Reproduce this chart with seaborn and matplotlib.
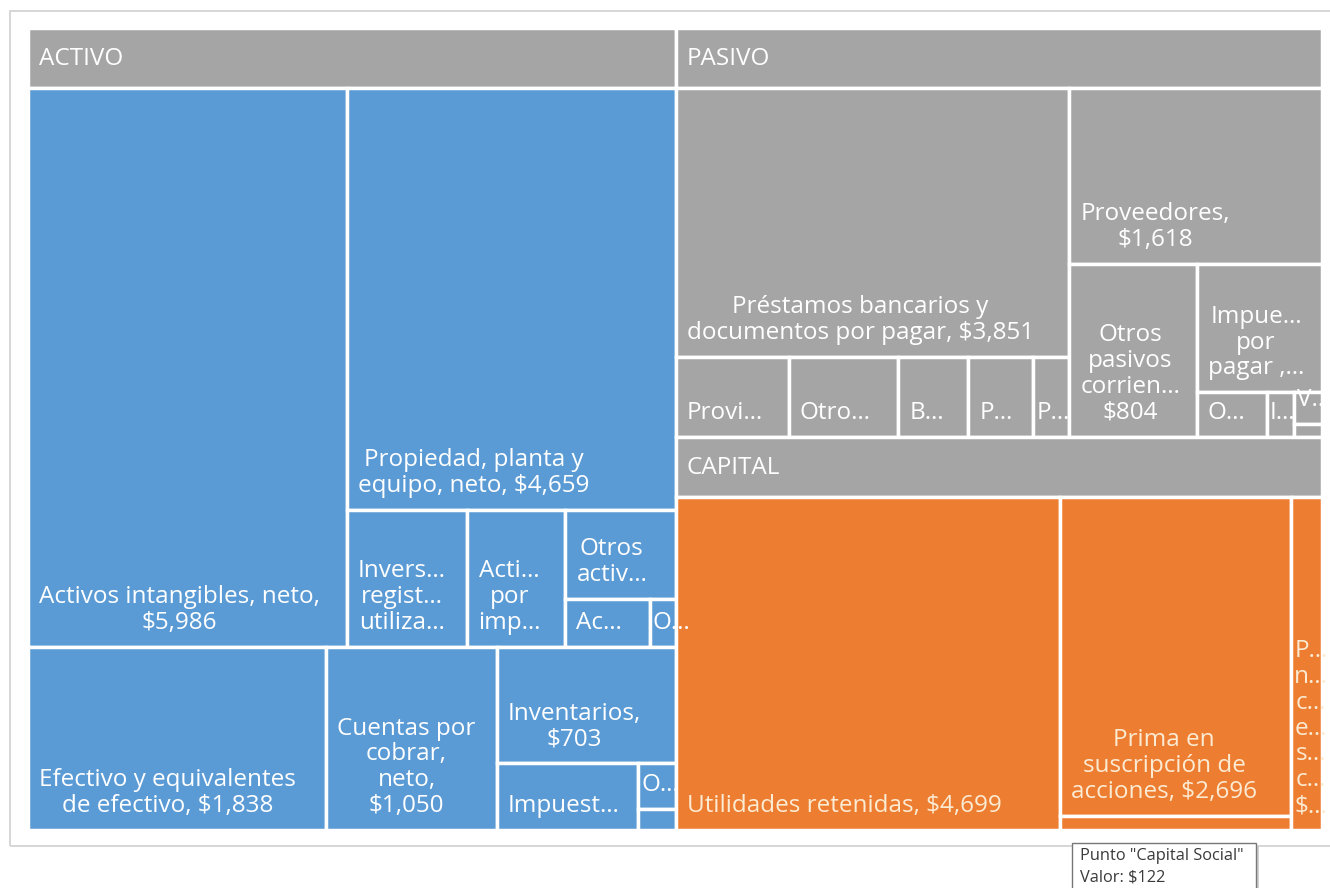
import matplotlib
matplotlib.use("Agg")
import matplotlib.pyplot as plt
import seaborn as sns
from matplotlib.patches import Rectangle
from matplotlib.transforms import Bbox, TransformedBbox

# Balance general: rubros y montos (millones de pesos)
activo_labels = [
    "Activos intangibles, neto,\n$5,986",
    "Propiedad, planta y\nequipo, neto, $4,659",
    "Invers…\nregist…\nutiliza…",
    "Acti…\npor\nimp…",
    "Otros\nactiv…",
    "Ac…",
    "O…",
    "Efectivo y equivalentes\nde efectivo, $1,838",
    "Cuentas por\ncobrar,\nneto,\n$1,050",
    "Inventarios,\n$703",
    "Impuest…",
    "O…",
    "",
]
activo_values = [5986, 4659, 550, 450, 330, 134, 41, 1838, 1050, 703, 316, 58, 26]

pasivo_labels = [
    "Préstamos bancarios y\ndocumentos por pagar, $3,851",
    "Provi…",
    "Otro…",
    "B…",
    "P…",
    "P…",
    "Proveedores,\n$1,618",
    "Otros\npasivos\ncorrien…\n$804",
    "Impue…\npor\npagar ,…",
    "O…",
    "I…",
    "V…",
    "",
]
pasivo_values = [3851, 331, 319, 205, 190, 105, 1618, 804, 586, 114, 44, 32, 13]

capital_labels = [
    "Utilidades retenidas, $4,699",
    "Prima en\nsuscripción de\nacciones, $2,696",
    "",
    "P…\nn…\nc…\ne…\ns…\nc…\n$…",
]
capital_values = [4699, 2696, 122, 379]

group_names = ["ACTIVO", "PASIVO", "CAPITAL"]
group_labels = [activo_labels, pasivo_labels, capital_labels]
group_values = [activo_values, pasivo_values, capital_values]
group_colors = ["#5B9BD5", "#A5A5A5", "#ED7D31"]
label_colors = ["#FFFFFF", "#FFFFFF", "#FCEBD3"]
header_color = "#A5A5A5"

# Tiling order: ('h', ...) places children side by side, ('v', ...) stacks them
activo_tiles = ("v", [
    ("h", [0, ("v", [1, ("h", [2, 3, ("v", [4, ("h", [5, 6])])])])]),
    ("h", [7, 8, ("v", [9, ("h", [10, ("v", [11, 12])])])]),
])
pasivo_tiles = ("h", [
    ("v", [0, ("h", [1, 2, 3, 4, 5])]),
    ("v", [6, ("h", [7, ("v", [8, ("h", [9, 10, ("v", [11, 12])])])])]),
])
capital_tiles = ("h", [0, ("v", [1, 2]), 3])
group_tiles = [activo_tiles, pasivo_tiles, capital_tiles]
top_tiles = ("h", [("g", 0), ("v", [("g", 1), ("g", 2)])])

sns.set_theme(style="white")
plt.rcParams["font.family"] = ["Open Sans", "DejaVu Sans"]

FIG_W, FIG_H = 1330, 888
fig = plt.figure(figsize=(FIG_W / 100, FIG_H / 100), dpi=100)
fig.patch.set_facecolor("white")

# chart frame
fig.patches.append(Rectangle((10 / FIG_W, 1 - 846 / FIG_H), 1.2, (846 - 11) / FIG_H,
                             transform=fig.transFigure, facecolor="none",
                             edgecolor="#D6D6D6", linewidth=1.4, zorder=-1))

left, top, right, bottom = 28, 28, 1322, 830
W, H = right - left, bottom - top
ax = fig.add_axes([left / FIG_W, 1 - bottom / FIG_H, W / FIG_W, H / FIG_H])
ax.set_xlim(0, W)
ax.set_ylim(H, 0)
ax.axis("off")

HEADER = 60
EDGE = 2.5
LABEL_SIZE = 17.5
renderer = fig.canvas.get_renderer()


def node_value(node, g=None):
    if isinstance(node, int):
        return group_values[g][node]
    kind, payload = node
    if kind == "g":
        return sum(group_values[payload])
    return sum(node_value(c, g) for c in payload)


def draw_leaf(g, idx, x0, y0, x1, y1):
    rect = Rectangle((x0, y0), x1 - x0, y1 - y0, facecolor=group_colors[g],
                     edgecolor="white", linewidth=EDGE)
    ax.add_patch(rect)
    label = group_labels[g][idx]
    if not label:
        return
    pad = 11
    t = ax.text(x0 + pad, y1 - 12, label, ha="left", va="bottom",
                multialignment="center", color=label_colors[g], fontsize=LABEL_SIZE,
                linespacing=1.1)
    t.set_clip_box(TransformedBbox(Bbox([[x0, y0], [x1, y1]]), ax.transData))
    bb = t.get_window_extent(renderer).transformed(ax.transData.inverted())
    tw = abs(bb.x1 - bb.x0)
    if tw + 2 * pad > (x1 - x0):
        t.set_x(x0 + max(3, ((x1 - x0) - tw) / 2))


def place(node, x0, y0, x1, y1, g=None):
    if isinstance(node, int):
        draw_leaf(g, node, x0, y0, x1, y1)
        return
    kind, payload = node
    if kind == "g":
        ax.add_patch(Rectangle((x0, y0), x1 - x0, HEADER, facecolor=header_color,
                               edgecolor="white", linewidth=EDGE))
        ax.text(x0 + 11, y0 + HEADER / 2 + 1, group_names[payload], ha="left",
                va="center", color="white", fontsize=17.5)
        place(group_tiles[payload], x0, y0 + HEADER, x1, y1, payload)
        return
    total = sum(node_value(c, g) for c in payload)
    pos = x0 if kind == "h" else y0
    for c in payload:
        frac = node_value(c, g) / total
        if kind == "h":
            nxt = pos + frac * (x1 - x0)
            place(c, pos, y0, nxt, y1, g)
        else:
            nxt = pos + frac * (y1 - y0)
            place(c, x0, pos, x1, nxt, g)
        pos = nxt


place(top_tiles, 0, 0, W, H)

# hover tooltip
tx0, ty0, tw_, th_ = 1072, 843, 184, 60
fig.patches.append(Rectangle(((tx0 + 3) / FIG_W, 1 - (ty0 + th_ + 3) / FIG_H), tw_ / FIG_W,
                             th_ / FIG_H, transform=fig.transFigure,
                             facecolor="#D0D0D0", edgecolor="none", zorder=5))
fig.patches.append(Rectangle((tx0 / FIG_W, 1 - (ty0 + th_) / FIG_H), tw_ / FIG_W,
                             th_ / FIG_H, transform=fig.transFigure,
                             facecolor="white", edgecolor="#777777", linewidth=1.0, zorder=6))
fig.text((tx0 + 8) / FIG_W, 1 - 856 / FIG_H, "Punto \"Capital Social\"", ha="left",
         va="center", fontsize=11.8, color="#3A3A3A", zorder=7)
fig.text((tx0 + 8) / FIG_W, 1 - 877 / FIG_H, "Valor: $122", ha="left",
         va="center", fontsize=11.8, color="#3A3A3A", zorder=7)

fig.savefig("out.png", dpi=100, facecolor="white")
